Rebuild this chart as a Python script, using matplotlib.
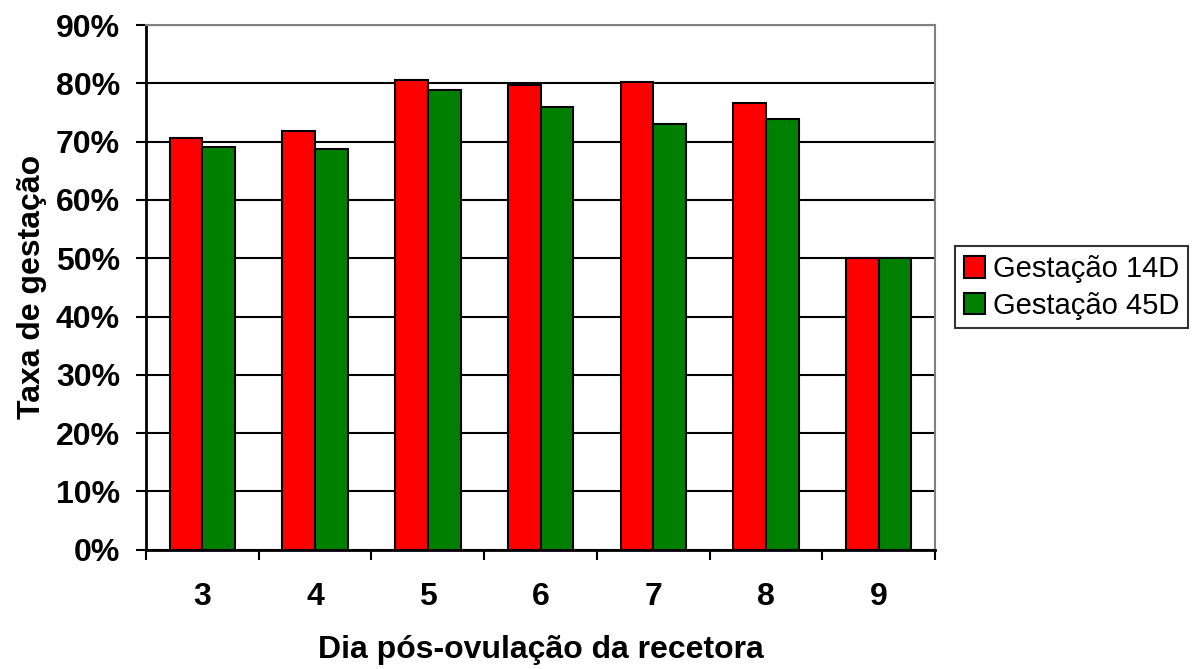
import numpy as np
import matplotlib.pyplot as plt

plt.rcParams['font.family'] = ['Liberation Sans', 'DejaVu Sans']

dias = ['3', '4', '5', '6', '7', '8', '9']
gest_14d = [70.7, 71.9, 80.6, 79.7, 80.3, 76.6, 50.0]
gest_45d = [69.1, 68.8, 78.8, 76.0, 73.0, 73.9, 50.0]

red = '#ff0000'
green = '#008000'
gray = '#808080'

fig = plt.figure(figsize=(11.92, 6.69), dpi=100)
ax = fig.add_axes([0.1225, 0.1783, 0.662, 0.7843])

x = np.arange(len(dias))
width = 0.29

ax.bar(x - width / 2, gest_14d, width=width, color=red, edgecolor='black',
       linewidth=1.5, label='Gestação 14D', zorder=3)
ax.bar(x + width / 2, gest_45d, width=width, color=green, edgecolor='black',
       linewidth=1.5, label='Gestação 45D', zorder=3)

ax.set_xlim(-0.5, len(dias) - 0.5)
ax.set_ylim(0, 90)

yt = np.arange(0, 100, 10)
ax.set_yticks(yt)
ax.set_yticklabels(['%d%%' % v for v in yt], fontsize=23, fontweight='bold')
ax.yaxis.grid(True, color='black', linewidth=1.5, zorder=0)

# category labels centred, tick marks on the boundaries between them
ax.set_xticks(x)
ax.set_xticklabels(dias, fontsize=23, fontweight='bold')
ax.tick_params(axis='x', which='major', length=0, pad=23)
ax.set_xticks(np.arange(-0.5, len(dias), 1), minor=True)
ax.tick_params(axis='x', which='minor', length=7.2, width=1.5, direction='out')
ax.tick_params(axis='y', length=7.2, width=1.5, direction='out', pad=11.5)

for side in ['left', 'bottom']:
    ax.spines[side].set_color('black')
    ax.spines[side].set_linewidth(2)
for side in ['top', 'right']:
    ax.spines[side].set_color(gray)
    ax.spines[side].set_linewidth(1.5)

ax.set_xlabel('Dia pós-ovulação da recetora', fontsize=23, fontweight='bold')
ax.xaxis.set_label_coords(0.5, -0.162)
ax.set_ylabel('Taxa de gestação', fontsize=23, fontweight='bold')
ax.yaxis.set_label_coords(-0.125, 0.5)

leg = ax.legend(loc='center left', bbox_to_anchor=(1.025, 0.5), fontsize=21,
                frameon=True, fancybox=False, handlelength=0.75, handleheight=0.75,
                handletextpad=0.25, borderpad=0.3, labelspacing=0.3,
                borderaxespad=0)
leg.get_frame().set_edgecolor('black')
leg.get_frame().set_linewidth(1.5)

fig.savefig('out.png', dpi=100)
